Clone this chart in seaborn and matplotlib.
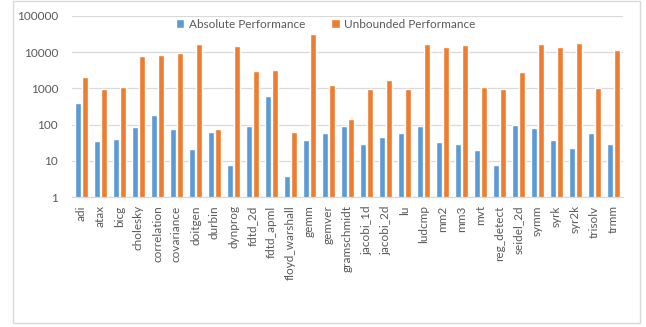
import matplotlib
matplotlib.use("Agg")
import matplotlib.pyplot as plt
import seaborn as sns
import pandas as pd
from matplotlib.patches import Rectangle
from matplotlib.ticker import FixedLocator, FixedFormatter, NullLocator

benchmarks = ["adi", "atax", "bicg", "cholesky", "correlation", "covariance", "doitgen",
              "durbin", "dynprog", "fdtd_2d", "fdtd_apml", "floyd_warshall", "gemm", "gemver",
              "gramschmidt", "jacobi_1d", "jacobi_2d", "lu", "ludcmp", "mm2", "mm3", "mvt",
              "reg_detect", "seidel_2d", "symm", "syrk", "syr2k", "trisolv", "trmm"]
absolute = [383, 35, 40, 88, 182, 75, 21, 63, 7.7, 92, 598, 3.8, 38.6, 59,
            92, 28.7, 45, 58, 92, 32.6, 30, 20, 7.7, 100, 81, 37, 23, 58, 28.7]
unbounded = [2050, 975, 1060, 7800, 8500, 9470, 17100, 75, 14500, 3000, 3130, 61, 31800, 1235,
             141, 975, 1660, 975, 16800, 13900, 15700, 1107, 955, 2820, 16800, 13900, 18300, 1017, 11200]
series_names = ["Absolute Performance", "Unbounded Performance"]
y_ticks = [1, 10, 100, 1000, 10000, 100000]
y_tick_labels = ["1", "10", "100", "1000", "10000", "100000"]

df = pd.DataFrame({
    "benchmark": benchmarks * 2,
    "value": absolute + unbounded,
    "series": [series_names[0]] * len(benchmarks) + [series_names[1]] * len(benchmarks),
})

sns.set_theme(style="white")
plt.rcParams["font.family"] = ["Lato", "DejaVu Sans"]

fig = plt.figure(figsize=(6.46, 3.27), dpi=100)
ax = fig.add_axes([72 / 646, 1 - 197 / 327, (623 - 72) / 646, (197 - 16) / 327])

sns.barplot(data=df, x="benchmark", y="value", hue="series", ax=ax,
            palette=["#5B9BD5", "#ED7D31"], width=0.74, gap=0.06,
            saturation=1, errorbar=None, legend=True)
ax.set_yscale("log")
ax.set_ylim(1, 100000)
ax.set_xlim(-0.5, len(benchmarks) - 0.5)
ax.yaxis.set_major_locator(FixedLocator(y_ticks))
ax.yaxis.set_major_formatter(FixedFormatter(y_tick_labels))
ax.yaxis.set_minor_locator(NullLocator())
ax.grid(axis="y", color="#D9D9D9", linewidth=0.9)
ax.set_axisbelow(True)
for s in ["top", "right", "left"]:
    ax.spines[s].set_visible(False)
ax.spines["bottom"].set_color("#D9D9D9")
ax.spines["bottom"].set_linewidth(0.9)
ax.set_xlabel("")
ax.set_ylabel("")
ax.tick_params(axis="x", rotation=90, labelsize=8.5, colors="#595959", length=0, pad=6)
ax.tick_params(axis="y", labelsize=8.5, colors="#595959", length=0, pad=10)
for lbl in ax.get_xticklabels():
    lbl.set_verticalalignment("top")

handles, labels = ax.get_legend_handles_labels()
ax.get_legend().remove()
fig.legend(handles, labels, loc="center", bbox_to_anchor=(326 / 646, 1 - 24 / 327),
           ncol=2, frameon=False, fontsize=8.5, labelcolor="#595959",
           handlelength=0.7, handleheight=0.7, handletextpad=0.4, columnspacing=2.2)

fig.patches.append(Rectangle((12.5 / 646, 4 / 327), (640 - 12.5) / 646, (326 - 4) / 327,
                             transform=fig.transFigure, fill=False,
                             edgecolor="#D9D9D9", linewidth=1))

fig.savefig("out.png", dpi=100)
